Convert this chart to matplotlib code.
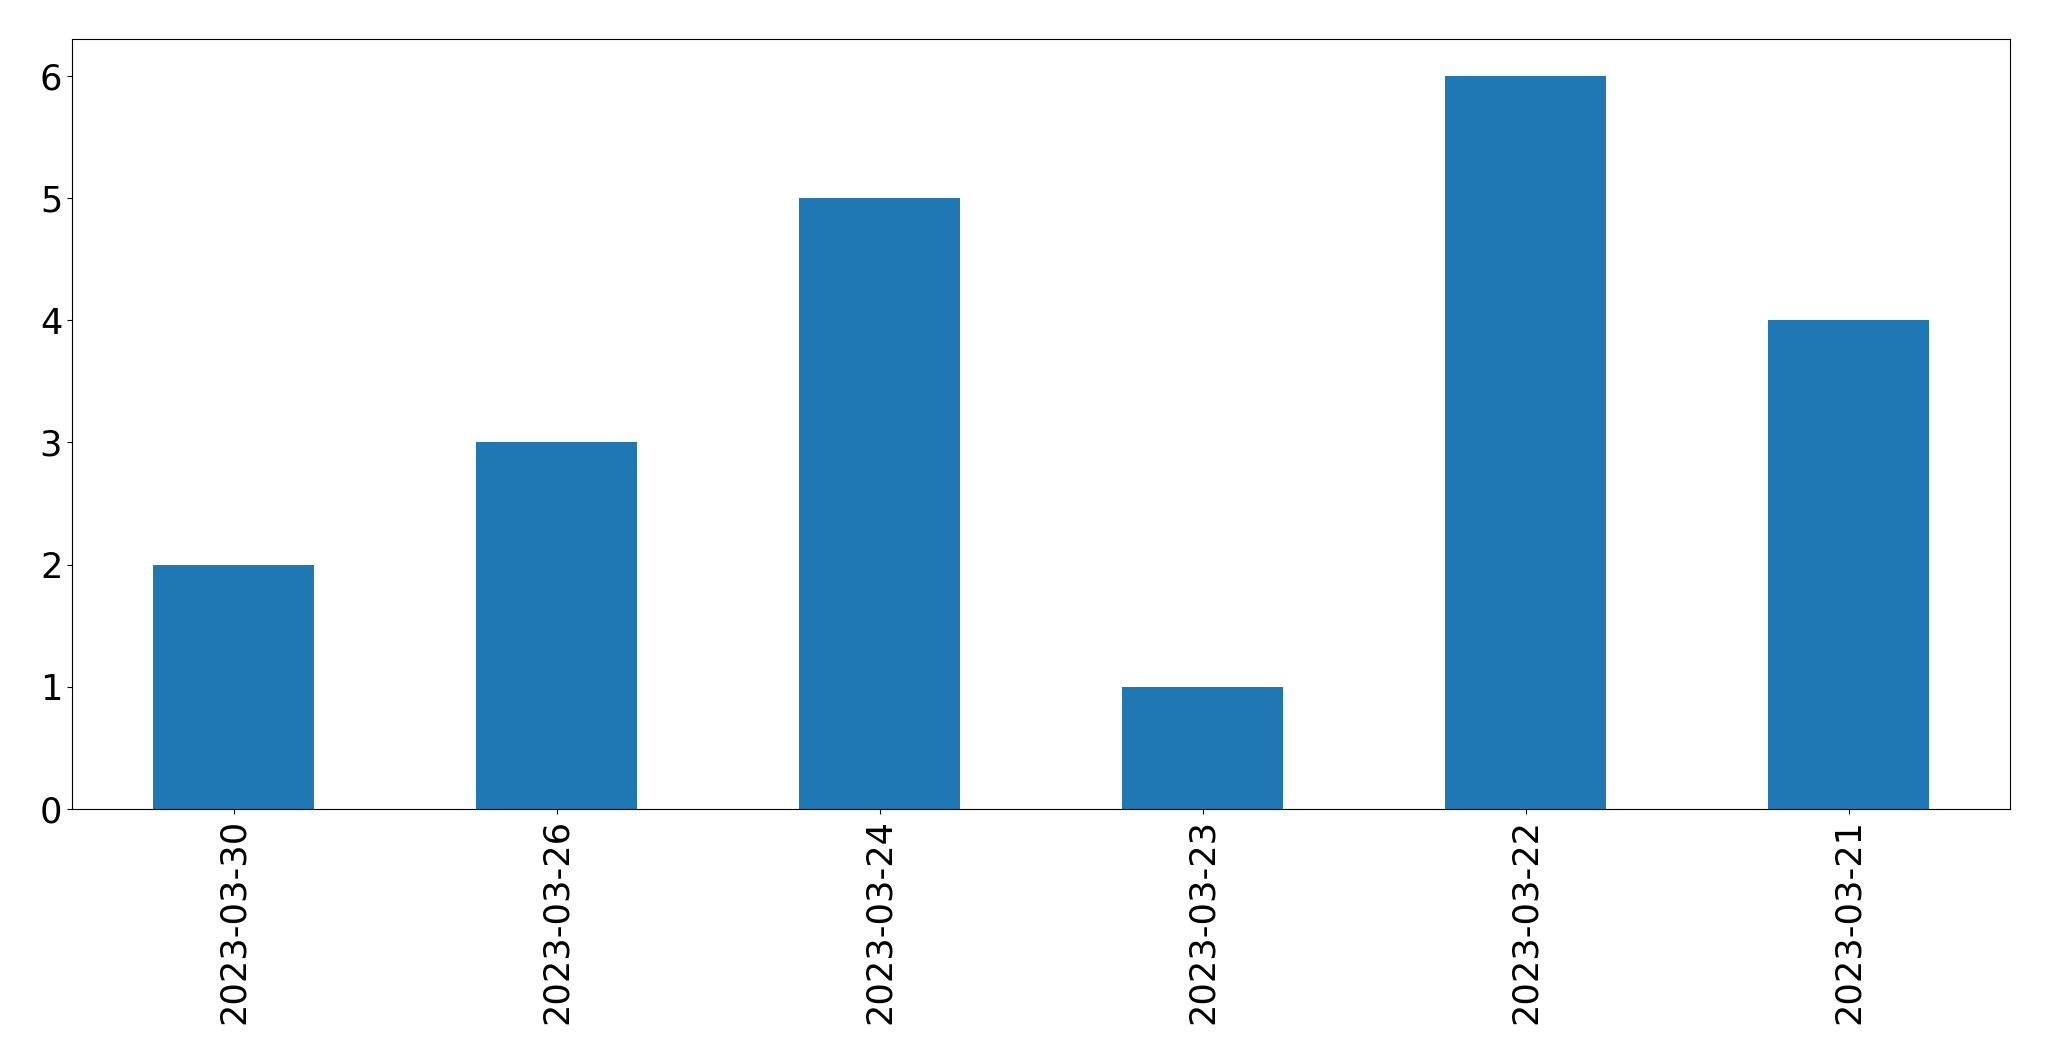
import pandas as pd
import matplotlib
matplotlib.use('Agg')
import matplotlib.pyplot as plt

# dates and counts, in the order shown
dates = ['2023-03-30', '2023-03-26', '2023-03-24', '2023-03-23', '2023-03-22', '2023-03-21']
counts = [2, 3, 5, 1, 6, 4]

series = pd.Series(counts, index=dates)

fig = plt.figure(figsize=(20.49, 10.61), dpi=100)
ax = fig.add_subplot(111)
series.plot(kind='bar', ax=ax, fontsize=25.3)

fig.subplots_adjust(left=72/2049, right=2010/2049, top=1-39/1061, bottom=1-809/1061)
fig.savefig('out.png', dpi=100)
